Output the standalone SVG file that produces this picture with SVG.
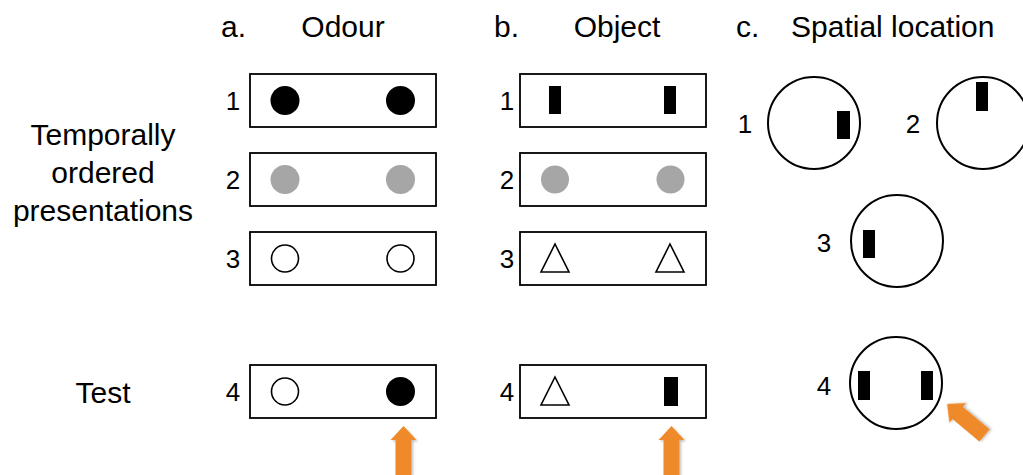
<svg xmlns="http://www.w3.org/2000/svg" width="1023" height="475" viewBox="0 0 1023 475">
<style>
text{font-family:"Liberation Sans",Arial,sans-serif;fill:#000}
.h{font-size:30px}
.l{font-size:30px;text-anchor:middle}
.n{font-size:26px;text-anchor:middle}
.box{fill:#fff;stroke:#000;stroke-width:1.8}
.ring{fill:#fff;stroke:#000;stroke-width:2}
.blk{fill:#000}
.gry{fill:#a6a6a6}
.open{fill:#fff;stroke:#000;stroke-width:1.6}
.tri{fill:#fff;stroke:#000;stroke-width:1.6;stroke-linejoin:miter}
.arr{fill:#ef8a2c;filter:url(#sh)}
</style>
<defs>
<filter id="sh" x="-50%" y="-50%" width="200%" height="200%">
<feDropShadow dx="1.5" dy="1.5" stdDeviation="1.2" flood-color="#000" flood-opacity="0.25"/>
</filter>
<path id="arrow" d="M0,0 L13,14 L8,14 L8,49 L-8,49 L-8,14 L-13,14 Z"/>
</defs>

<g id="headers">
<text class="h" x="221" y="37">a.</text>
<text class="l" x="343" y="37">Odour</text>
<text class="h" x="494" y="37">b.</text>
<text class="l" x="617" y="37">Object</text>
<text class="h" x="736" y="37">c.</text>
<text class="h" x="791" y="37">Spatial location</text>
</g>

<g id="row-labels">
<text class="l" x="103" y="145">Temporally</text>
<text class="l" x="103" y="183">ordered</text>
<text class="l" x="103" y="221">presentations</text>
<text class="l" x="103" y="403">Test</text>
</g>

<g id="odour-1">
<text class="n" x="233" y="110">1</text>
<rect class="box" x="250" y="74" width="186" height="53"/>
<circle class="blk" cx="285" cy="100.5" r="14.5"/>
<circle class="blk" cx="400.5" cy="100.5" r="14.5"/>
</g>
<g id="odour-2">
<text class="n" x="233" y="189">2</text>
<rect class="box" x="250" y="153" width="186" height="53"/>
<circle class="gry" cx="285" cy="179.5" r="14.5"/>
<circle class="gry" cx="400.5" cy="179.5" r="14.5"/>
</g>
<g id="odour-3">
<text class="n" x="233" y="268">3</text>
<rect class="box" x="250" y="232" width="186" height="53"/>
<circle class="open" cx="285" cy="258.5" r="13.5"/>
<circle class="open" cx="400.5" cy="258.5" r="13.5"/>
</g>
<g id="odour-4">
<text class="n" x="233" y="401">4</text>
<rect class="box" x="250" y="365" width="186" height="53"/>
<circle class="open" cx="285" cy="391.5" r="13.5"/>
<circle class="blk" cx="400.5" cy="391.5" r="14.5"/>
</g>

<g id="object-1">
<text class="n" x="507" y="110">1</text>
<rect class="box" x="520" y="74" width="186" height="53"/>
<rect class="blk" x="549" y="86" width="12" height="28"/>
<rect class="blk" x="664" y="86" width="12" height="28"/>
</g>
<g id="object-2">
<text class="n" x="507" y="189">2</text>
<rect class="box" x="520" y="153" width="186" height="53"/>
<circle class="gry" cx="555" cy="179.5" r="14"/>
<circle class="gry" cx="670.5" cy="179.5" r="14"/>
</g>
<g id="object-3">
<text class="n" x="507" y="268">3</text>
<rect class="box" x="520" y="232" width="186" height="53"/>
<polygon class="tri" points="555,244 569,272 541,272"/>
<polygon class="tri" points="670,244 684,272 656,272"/>
</g>
<g id="object-4">
<text class="n" x="507" y="401">4</text>
<rect class="box" x="520" y="365" width="186" height="53"/>
<polygon class="tri" points="555,377 569,405 541,405"/>
<rect class="blk" x="664" y="377" width="14" height="29"/>
</g>

<g id="spatial-1">
<text class="n" x="745" y="133">1</text>
<circle class="ring" cx="814" cy="123" r="46"/>
<rect class="blk" x="837" y="111" width="13" height="28"/>
</g>
<g id="spatial-2">
<text class="n" x="913" y="133">2</text>
<circle class="ring" cx="983" cy="123" r="46"/>
<rect class="blk" x="976" y="82" width="12" height="29"/>
</g>
<g id="spatial-3">
<text class="n" x="824" y="252">3</text>
<circle class="ring" cx="897" cy="241" r="46"/>
<rect class="blk" x="863" y="230" width="12" height="28"/>
</g>
<g id="spatial-4">
<text class="n" x="824" y="395">4</text>
<circle class="ring" cx="896" cy="383" r="46"/>
<rect class="blk" x="858" y="371" width="12" height="29"/>
<rect class="blk" x="921" y="371" width="12" height="29"/>
</g>

<g id="connectors">
<use href="#arrow" class="arr" transform="translate(403.5,426)"/>
<use href="#arrow" class="arr" transform="translate(671.5,426)"/>
<use href="#arrow" class="arr" transform="translate(947,404) rotate(-50)"/>
</g>
</svg>
